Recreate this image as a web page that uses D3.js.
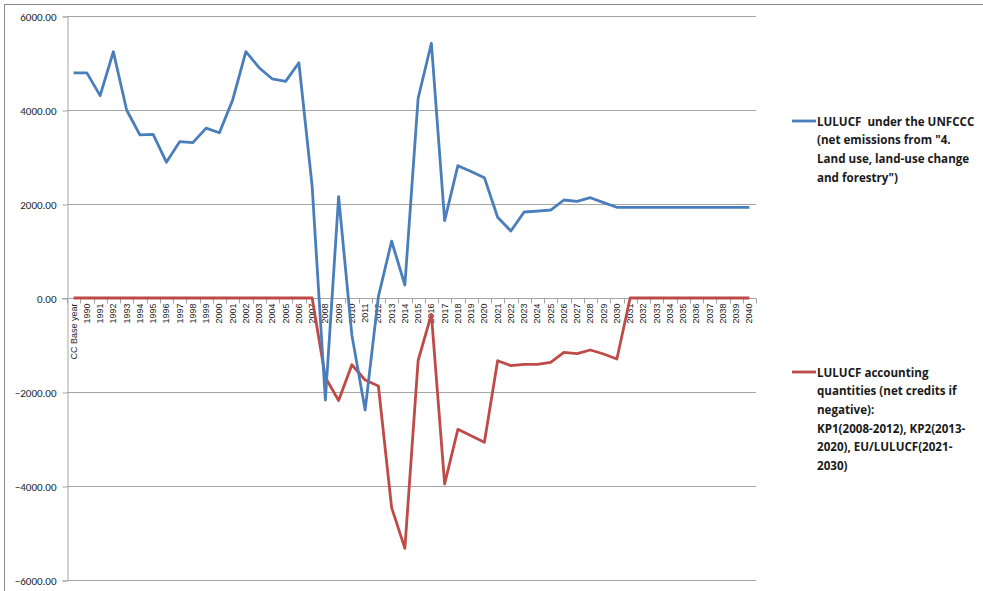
<!DOCTYPE html>
<html>
<head>
<meta charset="utf-8">
<script src="https://cdn.jsdelivr.net/npm/d3@7"></script>
<style>
  html, body { margin: 0; padding: 0; background: #fff; }
  svg { display: block; }
  .legend text { white-space: pre; }
</style>
</head>
<body>
<svg id="chart" width="983" height="591"></svg>
<script>
// Categories: base year, then 1990–2040
const categories = ["CC Base year"].concat(d3.range(1990, 2041).map(String));

// LULUCF net emissions under the UNFCCC
const unfccc = [
  4790, 4790, 4305, 5240, 4000, 3470, 3480, 2890, 3325, 3305,
  3615, 3515, 4210, 5240, 4900, 4660, 4610, 5005, 2380, -2170,
  2155, -790, -2385, 30, 1210, 277, 4250, 5420, 1645, 2815,
  2690, 2560, 1717, 1426, 1830, 1850, 1872, 2085, 2057, 2134,
  2028, 1930, 1930, 1930, 1930, 1930, 1930, 1930, 1930, 1930,
  1930, 1930
];

// LULUCF accounting quantities (KP1, KP2, EU/LULUCF)
const accounting = [
  0, 0, 0, 0, 0, 0, 0, 0, 0, 0,
  0, 0, 0, 0, 0, 0, 0, 0, 0, -1690,
  -2180, -1420, -1745, -1872, -4460, -5327, -1330, -350, -3957, -2794,
  -2929, -3071, -1334, -1440, -1411, -1411, -1369, -1156, -1185, -1106,
  -1192, -1298, 0, 0, 0, 0, 0, 0, 0, 0,
  0, 0
];

const yTicks = [6000, 4000, 2000, 0, -2000, -4000, -6000];

const legendUnfccc = [
  "LULUCF  under the UNFCCC",
  "(net emissions from \"4.",
  "Land use, land-use change",
  "and forestry\")"
];
const legendAccounting = [
  "LULUCF accounting",
  "quantities (net credits if",
  "negative):",
  "KP1(2008-2012), KP2(2013-",
  "2020), EU/LULUCF(2021-",
  "2030)"
];

const blue = "#4a7ebb";
const red = "#be4b48";
const gridColor = "#a6a6a6";

const svg = d3.select("#chart");

// outer chart frame
svg.append("rect")
  .attr("x", 4.5).attr("y", 4.5)
  .attr("width", 1000).attr("height", 1000)
  .attr("fill", "none").attr("stroke", "#8c8c8c").attr("stroke-width", 1);

const plot = { left: 67, right: 756, top: 16, bottom: 580 };

const x = d3.scaleBand()
  .domain(categories)
  .range([plot.left, plot.right]);

const y = d3.scaleLinear()
  .domain([-6000, 6000])
  .range([plot.bottom, plot.top]);

// horizontal gridlines
svg.append("g")
  .selectAll("line")
  .data(yTicks.filter(d => d !== 0))
  .join("line")
  .attr("x1", plot.left).attr("x2", plot.right)
  .attr("y1", d => Math.round(y(d)) + 0.5).attr("y2", d => Math.round(y(d)) + 0.5)
  .attr("stroke", gridColor).attr("stroke-width", 1);

// value axis
const yAxis = d3.axisLeft(y)
  .tickValues(yTicks)
  .tickSize(5)
  .tickPadding(6)
  .tickFormat(d3.format(".2f"));

const gy = svg.append("g")
  .attr("transform", `translate(${plot.left + 0.5},0.5)`)
  .call(yAxis);
gy.select(".domain").attr("stroke", gridColor);
gy.selectAll(".tick line").attr("stroke", gridColor);
gy.selectAll(".tick text")
  .attr("font-family", "Carlito, 'Liberation Sans', Arial, sans-serif")
  .attr("font-size", "11px")
  .attr("fill", "#222");

// category axis crossing at zero
const y0 = Math.round(y(0)) + 0.5;
const gx = svg.append("g").attr("transform", `translate(0,${y0})`);
gx.append("line")
  .attr("x1", plot.left - 5).attr("x2", plot.right)
  .attr("stroke", gridColor);
// tick marks at category boundaries
const bounds = categories.map(c => x(c)).concat([plot.right]);
gx.selectAll("line.tk")
  .data(bounds)
  .join("line")
  .attr("class", "tk")
  .attr("x1", d => Math.round(d) + 0.5).attr("x2", d => Math.round(d) + 0.5)
  .attr("y1", 0).attr("y2", 5)
  .attr("stroke", gridColor);
gx.selectAll("text")
  .data(categories)
  .join("text")
  .attr("transform", d => `translate(${x(d) + x.bandwidth() / 2 + 3},5) rotate(-90)`)
  .attr("text-anchor", "end")
  .attr("font-family", "'Liberation Sans', Arial, sans-serif")
  .attr("font-size", "9px")
  .attr("fill", "#222")
  .text(d => d);

// series lines
const line = d3.line()
  .x((d, i) => x(categories[i]) + x.bandwidth() / 2)
  .y(d => y(d));

svg.append("path")
  .datum(accounting)
  .attr("d", line)
  .attr("fill", "none")
  .attr("stroke", red)
  .attr("stroke-width", 2.8)
  .attr("stroke-linejoin", "round");

svg.append("path")
  .datum(unfccc)
  .attr("d", line)
  .attr("fill", "none")
  .attr("stroke", blue)
  .attr("stroke-width", 2.8)
  .attr("stroke-linejoin", "round");

// legend
function legendEntry(color, lines, top) {
  const g = svg.append("g").attr("class", "legend");
  g.append("line")
    .attr("x1", 792).attr("x2", 816)
    .attr("y1", top).attr("y2", top)
    .attr("stroke", color).attr("stroke-width", 2.8);
  g.selectAll("text")
    .data(lines)
    .join("text")
    .attr("x", 817)
    .attr("y", (d, i) => top + 4.5 + i * 18.7)
    .attr("font-family", "'Open Sans', Lato, sans-serif")
    .attr("font-weight", "bold")
    .attr("font-size", "11.6px")
    .attr("fill", "#1a1a1a")
    .text(d => d);
}
legendEntry(blue, legendUnfccc, 121);
legendEntry(red, legendAccounting, 372);
</script>
</body>
</html>
